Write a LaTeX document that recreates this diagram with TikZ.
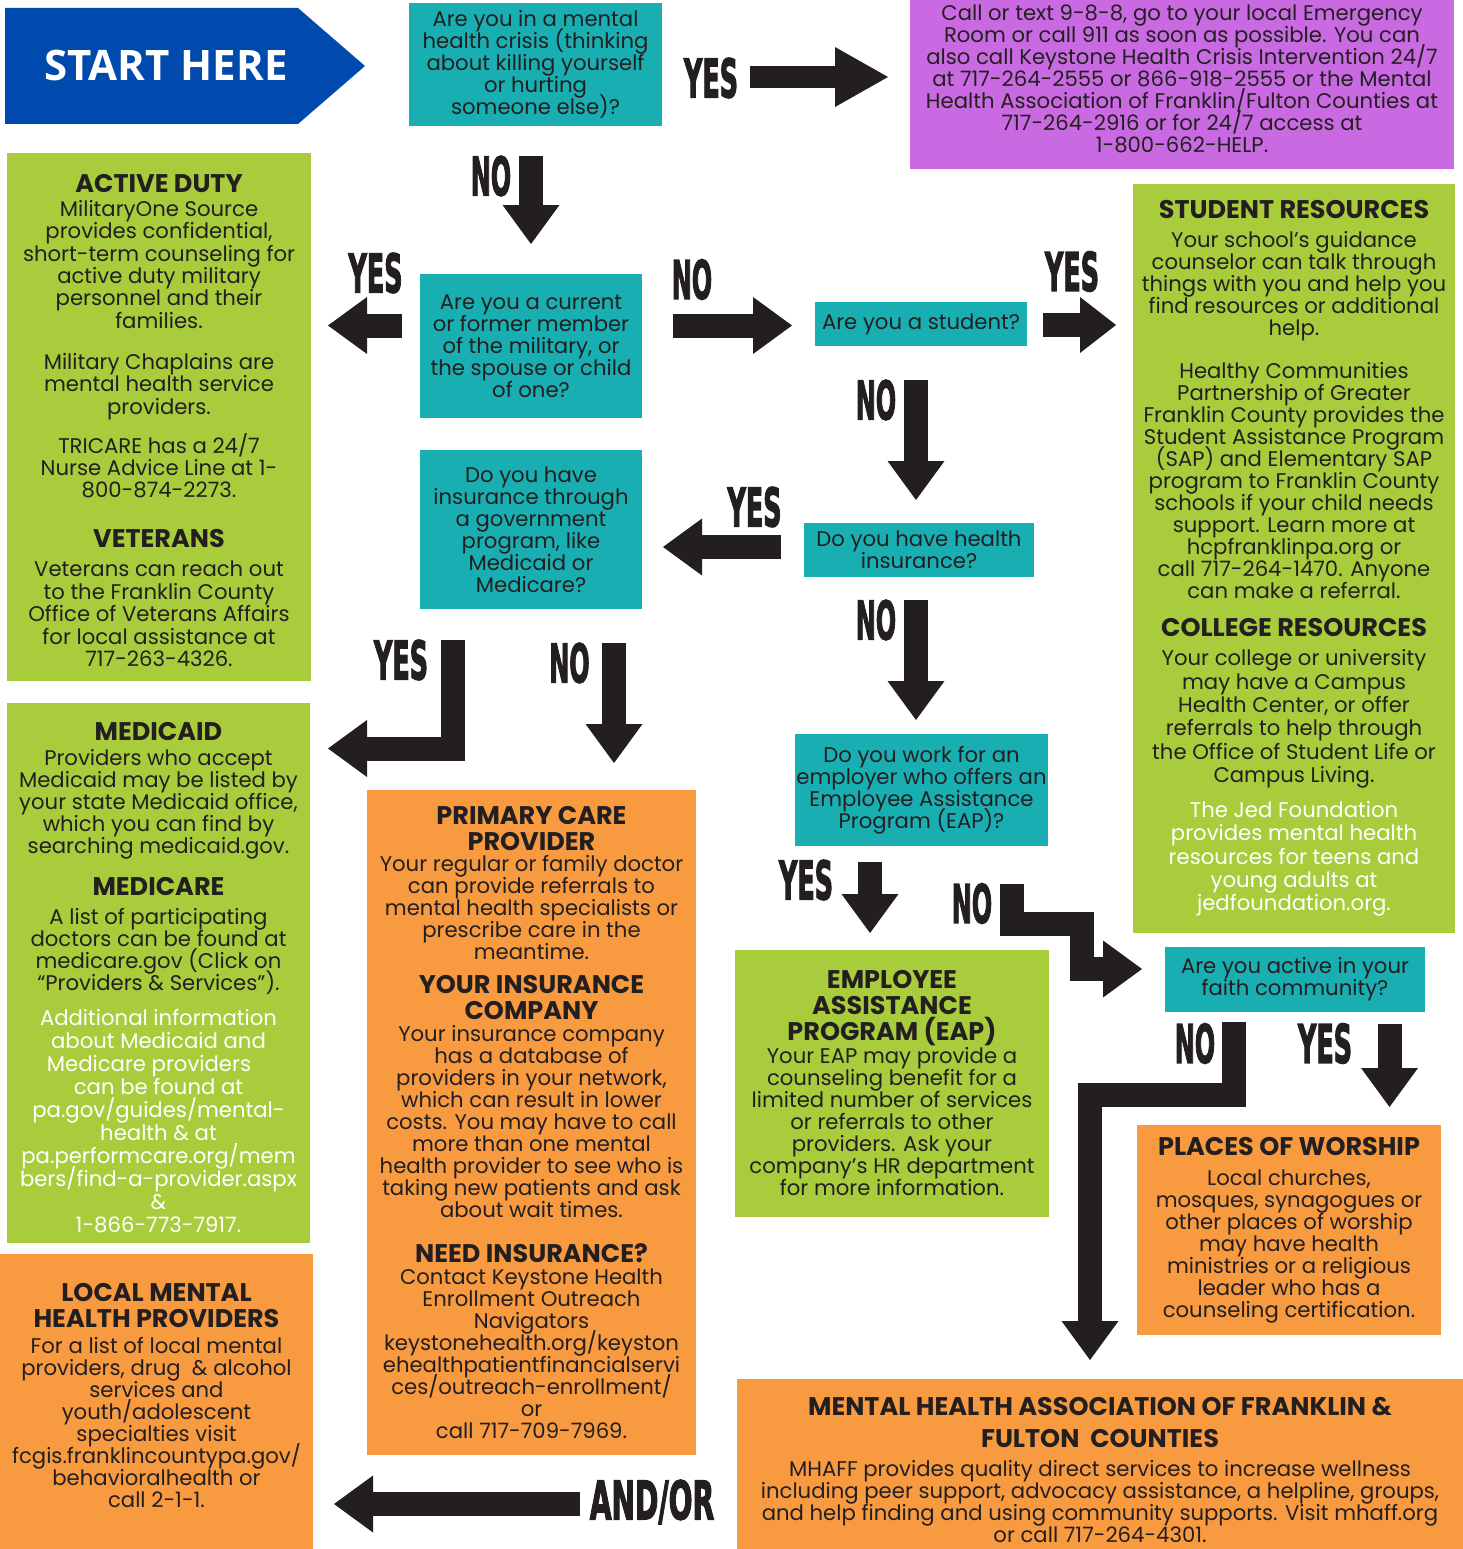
\documentclass[tikz,border=0pt]{standalone}
\usepackage{graphicx}
\usepackage{fontspec}
\setmainfont{Poppins}
\newfontfamily\ynfont{DejaVu Sans}[BoldFeatures={FakeBold=3}]
\newfontfamily\startfont{Open Sans}
\usepackage{tikz}
\usetikzlibrary{
  arrows.meta,
  calc,
  positioning,
}
\definecolor{startblue}{RGB}{0, 74, 173}
\definecolor{qteal}{RGB}{25, 175, 178}
\definecolor{crisispurple}{RGB}{201, 106, 226}
\definecolor{padgreen}{RGB}{168, 204, 60}
\definecolor{padorange}{RGB}{247, 154, 64}
\definecolor{ink}{RGB}{35, 31, 32}
\newcommand\bodyfont{\fontsize{21.2}{22}\selectfont\lineskiplimit-100pt\relax}
\newcommand\dutyfont{\fontsize{21.2}{22.4}\selectfont\lineskiplimit-100pt\relax}
\tikzstyle{box} = [
  rectangle,
  inner sep=0pt,
  align=center,
  text=ink,
  font=\bodyfont,
]
\tikzstyle{qbox} = [box, fill=qteal]
\tikzstyle{gbox} = [box, fill=padgreen]
\tikzstyle{obox} = [box, fill=padorange]
\tikzstyle{yn} = [inner sep=0pt, text=ink]
\tikzstyle{blockarrow} = [
  -{Triangle[width=57pt, length=39pt, line width=0pt]},
  line width=24pt,
  draw=ink,
  line join=miter,
]
\newcommand\hd[1]{{\fontsize{25.5}{26}\selectfont\bfseries #1}}
\newcommand\wt[1]{\textcolor{white}{#1}}
\newcommand\yn[2][0.48]{\scalebox{#1}[1]{\fontsize{53}{53}\ynfont\bfseries #2}}

\begin{document}
\begin{tikzpicture}[x=1pt,y=-1pt,node distance=0pt and 0pt]
  \useasboundingbox (0,0) rectangle (1463,1549);

  % start arrow
  \fill[startblue] (5,8) -- (298,8) -- (365,66) -- (298,124) -- (5,124) -- cycle;
  \node[inner sep=0pt,text=white,font={\fontsize{42}{42}\startfont\bfseries}] (start) at (166,66) {START HERE};

  % questions
  \node[qbox,minimum width=253pt,minimum height=123pt] (crisisQ) at (535.5,64.5) {Are you in a mental\\health crisis (thinking\\about killing yourself\\or hurting\\someone else)?};
  \node[box,fill=crisispurple,minimum width=544pt,minimum height=169pt] (crisisBox) at (1182,84.5) {};
  \node[box,yshift=6pt] (crisisHelp) at (crisisBox) {Call or text 9-8-8, go to your local Emergency\\Room or call 911 as soon as possible. You can\\also call Keystone Health Crisis Intervention 24/7\\at 717-264-2555 or 866-918-2555 or the Mental\\Health Association of Franklin/Fulton Counties at\\717-264-2916 or for 24/7 access at\\1-800-662-HELP.};
  \node[qbox,minimum width=222pt,minimum height=144pt] (militaryQ) at (531,346) {Are you a current\\or former member\\of the military, or\\the spouse or child\\of one?};
  \node[qbox,minimum width=222pt,minimum height=159pt] (govQ) [below=32pt of militaryQ] {Do you have\\insurance through\\a government\\program, like\\Medicaid or\\Medicare?};
  \node[qbox,minimum width=212pt,minimum height=44pt] (studentQ) at (921,324) {Are you a student?};
  \node[qbox,minimum width=230pt,minimum height=54pt] (healthQ) at (919,550) {Do you have health\\insurance?};
  \node[qbox,minimum width=253pt,minimum height=112pt] (eapQ) at (921.5,790) {Do you work for an\\employer who offers an\\Employee Assistance\\Program (EAP)?};
  \node[qbox,minimum width=260pt,minimum height=65pt] (faithQ) at (1295,979.5) {Are you active in your\\faith community?};

  % resources
  \node[gbox,minimum width=304pt,minimum height=528pt] (activeBox) at (159,417) {};
  \node[box,font=\dutyfont,yshift=-3.5pt] (activeDuty) at (activeBox) {\hd{ACTIVE DUTY}\\[1.6pt]
    MilitaryOne Source\\provides confidential,\\short-term counseling for\\active duty military\\personnel and their\\families.\\[18.6pt]
    Military Chaplains are\\mental health service\\providers.\\[16.6pt]
    TRICARE has a 24/7\\Nurse Advice Line at 1-\\800-874-2273.\\[27.6pt]
    \hd{VETERANS}\\[6.6pt]
    Veterans can reach out\\to the Franklin County\\Office of Veterans Affairs\\for local assistance at\\717-263-4326.};
  \node[gbox,minimum width=322pt,minimum height=749pt] (studentRes) at (1294,558.5) {\hd{STUDENT RESOURCES}\\[7pt]
    Your school’s guidance\\counselor can talk through\\things with you and help you\\find resources or additional\\help.\\[21pt]
    Healthy Communities\\Partnership of Greater\\Franklin County provides the\\Student Assistance Program\\(SAP) and Elementary SAP\\program to Franklin County\\schools if your child needs\\support. Learn more at\\hcpfranklinpa.org or\\call 717-264-1470. Anyone\\can make a referral.\\[16pt]
    \hd{COLLEGE RESOURCES}\\[7pt]
    Your college or university\\[1.4pt]may have a Campus\\[1.4pt]Health Center, or offer\\[1.4pt]referrals to help through\\[1.4pt]the Office of Student Life or\\[1.4pt]Campus Living.\\[13pt]
    \wt{The Jed Foundation}\\[1.25pt]\wt{provides mental health}\\[1.25pt]\wt{resources for teens and}\\[1.25pt]\wt{young adults at}\\[1.25pt]\wt{jedfoundation.org.}};
  \node[gbox,minimum width=303pt,minimum height=540pt] (medicaidBox) at (158.5,973) {};
  \node[box,yshift=-4.5pt] (medicaid) at (medicaidBox) {\hd{MEDICAID}\\[3pt]
    Providers who accept\\Medicaid may be listed by\\your state Medicaid office,\\which you can find by\\searching medicaid.gov.\\[20pt]
    \hd{MEDICARE}\\[7pt]
    A list of participating\\doctors can be found at\\medicare.gov (Click on\\“Providers \& Services”).\\[13pt]
    \wt{Additional information}\\[1pt]\wt{about Medicaid and}\\[1pt]\wt{Medicare providers\hspace*{19pt}}\\[1pt]\wt{can be found at}\\[1pt]\wt{pa.gov/guides/mental-}\\[1pt]\wt{health \& at}\\[1pt]\wt{pa.performcare.org/mem}\\[1pt]\wt{bers/find-a-provider.aspx}\\[1pt]\wt{\&}\\[1pt]\wt{1-866-773-7917.}};
  \node[obox,minimum width=329pt,minimum height=665pt] (primaryCare) at (531.5,1122.5) {\hd{PRIMARY CARE}\\[4pt]\hd{PROVIDER}\\[-1pt]
    Your regular or family doctor\\can provide referrals to\\mental health specialists or\\prescribe care in the\\meantime.\\[12pt]
    \hd{YOUR INSURANCE}\\[4pt]\hd{COMPANY}\\
    Your insurance company\\has a database of\\providers in your network,\\which can result in lower\\costs. You may have to call\\more than one mental\\health provider to see who is\\taking new patients and ask\\about wait times.\\[23pt]
    \hd{NEED INSURANCE?}\\
    Contact Keystone Health\\Enrollment Outreach\\Navigators\\keystonehealth.org/keyston\\ehealthpatientfinancialservi\\ces/outreach-enrollment/\\or\\call 717-709-7969.};
  \node[gbox,minimum width=314pt,minimum height=267pt] (eapRes) at (892,1083.5) {\hd{EMPLOYEE}\\[4pt]\hd{ASSISTANCE}\\[4pt]\hd{PROGRAM (EAP)}\\[1pt]
    Your EAP may provide a\\counseling benefit for a\\limited number of services\\or referrals to other\\providers. Ask your\\company’s HR department\\for more information.};
  \node[obox,minimum width=304pt,minimum height=210pt] (worship) at (1289,1230) {\hd{PLACES OF WORSHIP}\\[8pt]
    Local churches,\\mosques, synagogues or\\other places of worship\\may have health\\ministries or a religious\\leader who has a\\counseling certification.};
  \node[obox,minimum width=726pt,minimum height=170pt] (mhaffBox) at (1100,1464) {};
  \node[box,yshift=-5.5pt] (mhaff) at (mhaffBox) {\hd{MENTAL HEALTH ASSOCIATION OF FRANKLIN \&}\\[10pt]\hd{FULTON\ \ COUNTIES}\\[7pt]
    MHAFF provides quality direct services to increase wellness\\including peer support, advocacy assistance, a helpline, groups,\\and help finding and using community supports. Visit mhaff.org\\or call 717-264-4301.};
  \node[obox,minimum width=313pt,minimum height=295pt] (localBox) at (156.5,1401.5) {};
  \node[box,yshift=6pt] (localMH) at (localBox) {\hd{LOCAL MENTAL}\\[4pt]\hd{HEALTH PROVIDERS}\\[4pt]
    For a list of local mental\\providers, drug\ \ \& alcohol\\services and\\youth/adolescent\\specialties visit\\fcgis.franklincountypa.gov/\\behavioralhealth or\\call 2-1-1.};

  % yes / no labels
  \node[yn] (crisisYes) at (711,78) {\yn{YES}};
  \node[yn] (crisisNo) at (491,176) {\yn[0.45]{NO}};
  \node[yn] (militaryYes) at (375.5,273) {\yn{YES}};
  \node[yn] (militaryNo) at (692,279.5) {\yn[0.45]{NO}};
  \node[yn] (studentYes) at (1072,271.5) {\yn{YES}};
  \node[yn] (studentNo) at (876,400) {\yn[0.45]{NO}};
  \node[yn] (healthYes) at (754.5,507) {\yn{YES}};
  \node[yn] (healthNo) at (876,620) {\yn[0.45]{NO}};
  \node[yn] (govYes) at (401,660) {\yn{YES}};
  \node[yn] (govNo) at (569.5,663) {\yn[0.45]{NO}};
  \node[yn] (eapYes) at (806,880) {\yn{YES}};
  \node[yn] (eapNo) at (972,903.5) {\yn[0.45]{NO}};
  \node[yn] (faithNo) at (1195,1043.5) {\yn[0.45]{NO}};
  \node[yn] (faithYes) at (1325,1043.5) {\yn{YES}};
  \node[yn] (andOr) at (652,1502) {\yn[0.53]{AND/OR}};

  % arrow ends
  \coordinate (crisisYesA) at (750,77);
  \coordinate (crisisYesB) at (888,77);
  \coordinate (crisisNoA) at (531,156);
  \coordinate (crisisNoB) at (531,244);
  \coordinate (militaryYesA) at (402,325.5);
  \coordinate (militaryYesB) at (328,325.5);
  \coordinate (militaryNoA) at (673,325.5);
  \coordinate (militaryNoB) at (792,325.5);
  \coordinate (studentYesA) at (1043,325);
  \coordinate (studentYesB) at (1116,325);
  \coordinate (studentNoA) at (916,380);
  \coordinate (studentNoB) at (916,500);
  \coordinate (healthYesA) at (781,547);
  \coordinate (healthYesB) at (663,547);
  \coordinate (healthNoA) at (916,600);
  \coordinate (healthNoB) at (916,720);
  \coordinate (govYesA) at (452.5,640);
  \coordinate (govYesB) at (328,748.5);
  \coordinate (govNoA) at (614,643);
  \coordinate (govNoB) at (614,763);
  \coordinate (eapYesA) at (870,862);
  \coordinate (eapYesB) at (870,933);
  \coordinate (eapNoA) at (1012,884);
  \coordinate (eapNoB) at (1142,969);
  \coordinate (faithNoA) at (1234,1022);
  \coordinate (faithNoB) at (1090,1360);
  \coordinate (faithYesA) at (1389.5,1024);
  \coordinate (faithYesB) at (1389.5,1107);
  \coordinate (andOrA) at (580,1504);
  \coordinate (andOrB) at (334,1504);

  \draw[blockarrow,line width=22pt,-{Triangle[width=60pt,length=53pt,line width=0pt]}] (crisisYesA) -- (crisisYesB);
  \draw[blockarrow] (crisisNoA) -- (crisisNoB);
  \draw[blockarrow] (militaryYesA) -- (militaryYesB);
  \draw[blockarrow] (militaryNoA) -- (militaryNoB);
  \draw[blockarrow,-{Triangle[width=56pt, length=36pt, line width=0pt]}] (studentYesA) -- (studentYesB);
  \draw[blockarrow] (studentNoA) -- (studentNoB);
  \draw[blockarrow] (healthYesA) -- (healthYesB);
  \draw[blockarrow] (healthNoA) -- (healthNoB);
  \draw[blockarrow] (govYesA) |- (govYesB);
  \draw[blockarrow] (govNoA) -- (govNoB);
  \draw[blockarrow] (eapYesA) -- (eapYesB);
  \draw[blockarrow] (eapNoA) -- (1012,923.5) -- (1081.5,923.5) -- (1081.5,969) -- (eapNoB);
  \draw[blockarrow] (faithNoA) -- (1234,1095) -- (1090,1095) -- (faithNoB);
  \draw[blockarrow] (faithYesA) -- (faithYesB);
  \draw[blockarrow] (andOrA) -- (andOrB);
\end{tikzpicture}
\end{document}
